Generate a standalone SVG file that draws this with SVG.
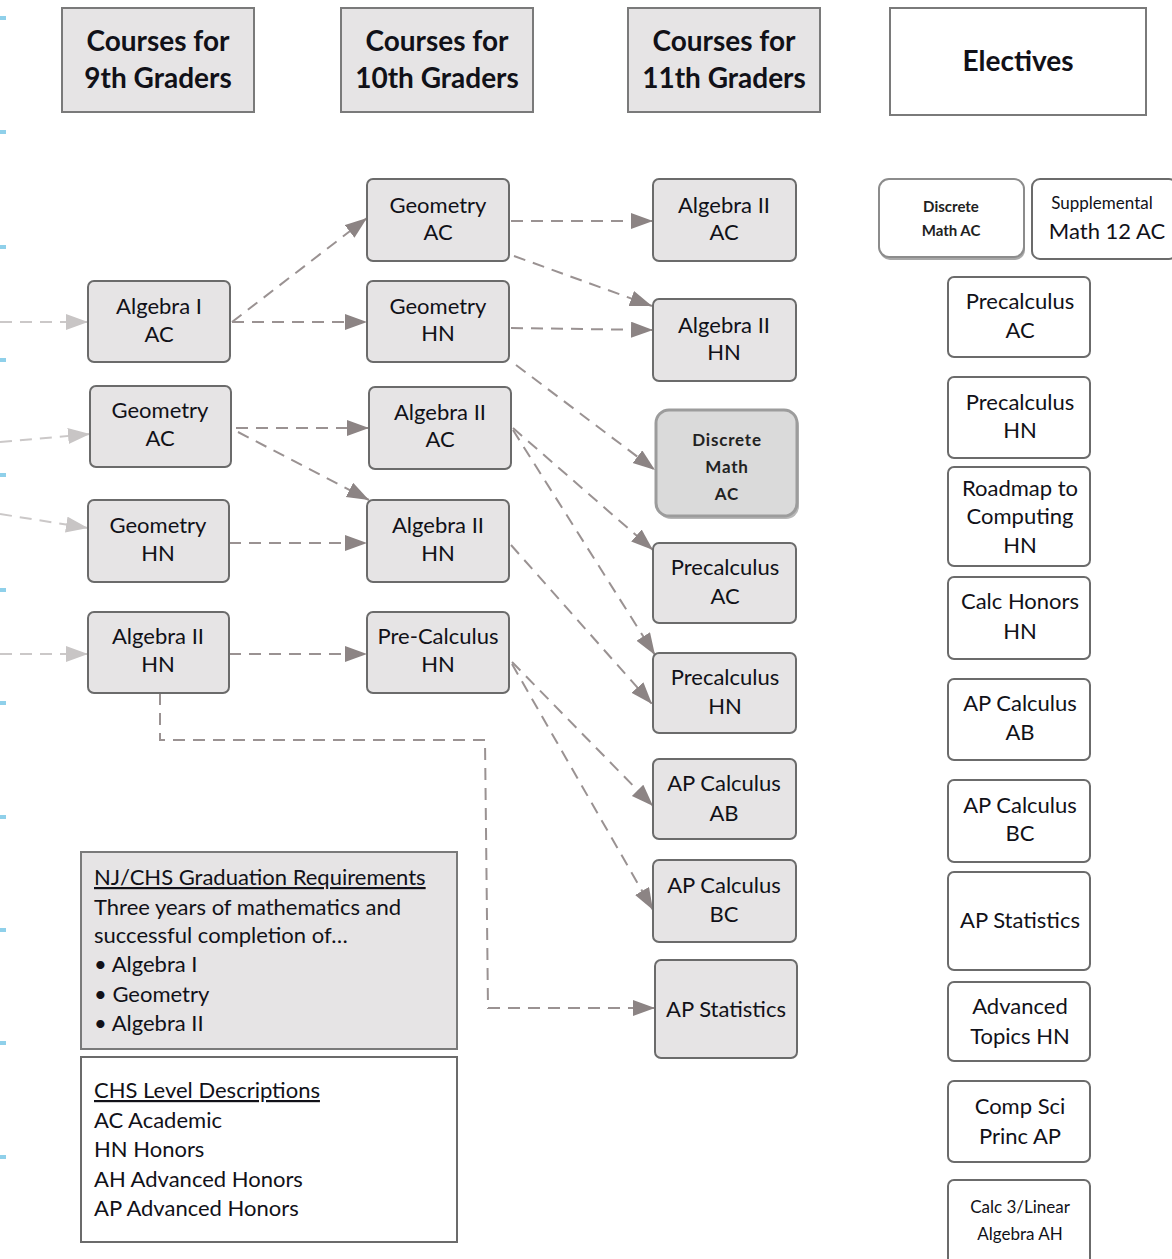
<svg xmlns="http://www.w3.org/2000/svg" width="1172" height="1259" viewBox="0 0 1172 1259">
<style>
text{font-family:Lato,"Open Sans","Liberation Sans",sans-serif;fill:#111118}
.hdr rect{fill:#e6e4e5;stroke:#7a7a7a;stroke-width:2}
.hdr text{font-size:28px;font-weight:bold;text-anchor:middle}
.node rect{fill:#e6e4e5;stroke:#6b6b6b;stroke-width:2}
.node text{font-size:22px;text-anchor:middle}
.elec rect{fill:#fff;stroke:#6b6b6b;stroke-width:2}
.elec text{font-size:22px;text-anchor:middle}
.info text{font-size:22px}
.c{fill:none;stroke:#9a9292;stroke-width:2;stroke-dasharray:12 8}
.ci{fill:none;stroke:#cbc8c8;stroke-width:2;stroke-dasharray:12 8}
.blue{fill:#8fd0ea}
.node text.dm{font-size:17px;font-weight:bold;letter-spacing:0.8px;fill:#222}
.elec text.de{font-size:15px;font-weight:bold;fill:#222}
</style>
<defs>
<marker id="ah" markerUnits="userSpaceOnUse" markerWidth="24" markerHeight="18" refX="22" refY="8" orient="auto"><path d="M0,0 L22,8 L0,16 z" fill="#8c8484"/></marker>
<marker id="ahl" markerUnits="userSpaceOnUse" markerWidth="24" markerHeight="18" refX="22" refY="8" orient="auto"><path d="M0,0 L22,8 L0,16 z" fill="#c8c5c5"/></marker>
</defs>
<rect width="1172" height="1259" fill="#fff"/>
<g id="edge-marks">
<rect class="blue" x="0" y="16" width="6" height="4"/>
<rect class="blue" x="0" y="130" width="6" height="4"/>
<rect class="blue" x="0" y="245" width="6" height="4"/>
<rect class="blue" x="0" y="358" width="6" height="4"/>
<rect class="blue" x="0" y="473" width="6" height="4"/>
<rect class="blue" x="0" y="588" width="6" height="4"/>
<rect class="blue" x="0" y="701" width="6" height="4"/>
<rect class="blue" x="0" y="815" width="6" height="4"/>
<rect class="blue" x="0" y="928" width="6" height="4"/>
<rect class="blue" x="0" y="1041" width="6" height="4"/>
<rect class="blue" x="0" y="1155" width="6" height="4"/>
</g>
<g id="headers" class="hdr">
<g id="h9"><rect x="62" y="8" width="192" height="104"/><text x="158" y="51">Courses for</text><text x="158" y="88">9th Graders</text></g>
<g id="h10"><rect x="341" y="8" width="192" height="104"/><text x="437" y="51">Courses for</text><text x="437" y="88">10th Graders</text></g>
<g id="h11"><rect x="628" y="8" width="192" height="104"/><text x="724" y="51">Courses for</text><text x="724" y="88">11th Graders</text></g>
<g id="hel"><rect x="890" y="8" width="256" height="107" style="fill:#fff"/><text x="1018" y="71">Electives</text></g>
</g>
<g id="connectors">
<path class="ci" d="M0,322 L88,322" marker-end="url(#ahl)"/>
<path class="ci" d="M0,442 L90,434" marker-end="url(#ahl)"/>
<path class="ci" d="M0,514 L88,528" marker-end="url(#ahl)"/>
<path class="ci" d="M0,654 L88,654" marker-end="url(#ahl)"/>
<path class="c" d="M232,322 L367,218" marker-end="url(#ah)"/>
<path class="c" d="M232,322 L367,322" marker-end="url(#ah)"/>
<path class="c" d="M236,428 L369,428" marker-end="url(#ah)"/>
<path class="c" d="M238,432 L369,500" marker-end="url(#ah)"/>
<path class="c" d="M229,543 L367,543" marker-end="url(#ah)"/>
<path class="c" d="M229,654 L367,654" marker-end="url(#ah)"/>
<path class="c" d="M160,693 L160,740 L485,740 L488,1008 L655,1008" marker-end="url(#ah)"/>
<path class="c" d="M511,221 L653,221" marker-end="url(#ah)"/>
<path class="c" d="M514,256 L652,306" marker-end="url(#ah)"/>
<path class="c" d="M511,328 L653,330" marker-end="url(#ah)"/>
<path class="c" d="M516,365 L655,470" marker-end="url(#ah)"/>
<path class="c" d="M513,428 L653,550" marker-end="url(#ah)"/>
<path class="c" d="M513,430 L655,655" marker-end="url(#ah)"/>
<path class="c" d="M511,545 L652,704" marker-end="url(#ah)"/>
<path class="c" d="M512,662 L653,806" marker-end="url(#ah)"/>
<path class="c" d="M512,664 L653,910" marker-end="url(#ah)"/>
</g>
<g id="grade9">
<g id="n9-alg1ac" class="node"><rect x="88" y="281" width="142" height="81" rx="6"/><text x="159" y="314">Algebra I</text><text x="159" y="342">AC</text></g>
<g id="n9-geoac" class="node"><rect x="90" y="386" width="141" height="81" rx="6"/><text x="160" y="418">Geometry</text><text x="160" y="446">AC</text></g>
<g id="n9-geohn" class="node"><rect x="88" y="500" width="141" height="82" rx="6"/><text x="158" y="533">Geometry</text><text x="158" y="561">HN</text></g>
<g id="n9-alg2hn" class="node"><rect x="88" y="612" width="141" height="81" rx="6"/><text x="158" y="644">Algebra II</text><text x="158" y="672">HN</text></g>
</g>
<g id="grade10">
<g id="n10-geoac" class="node"><rect x="367" y="179" width="142" height="82" rx="6"/><text x="438" y="213">Geometry</text><text x="438" y="240">AC</text></g>
<g id="n10-geohn" class="node"><rect x="367" y="281" width="142" height="81" rx="6"/><text x="438" y="314">Geometry</text><text x="438" y="341">HN</text></g>
<g id="n10-alg2ac" class="node"><rect x="369" y="387" width="142" height="82" rx="6"/><text x="440" y="420">Algebra II</text><text x="440" y="447">AC</text></g>
<g id="n10-alg2hn" class="node"><rect x="367" y="500" width="142" height="82" rx="6"/><text x="438" y="533">Algebra II</text><text x="438" y="561">HN</text></g>
<g id="n10-precalchn" class="node"><rect x="367" y="612" width="142" height="81" rx="6"/><text x="438" y="644">Pre-Calculus</text><text x="438" y="672">HN</text></g>
</g>
<g id="grade11">
<g id="n11-alg2ac" class="node"><rect x="653" y="179" width="143" height="82" rx="6"/><text x="724" y="213">Algebra II</text><text x="724" y="240">AC</text></g>
<g id="n11-alg2hn" class="node"><rect x="653" y="299" width="143" height="82" rx="6"/><text x="724" y="333">Algebra II</text><text x="724" y="360">HN</text></g>
<g id="n11-discrete" class="node"><rect x="658" y="413" width="141" height="106" rx="13" style="fill:#b8b8b8;stroke:none"/><rect x="656" y="410" width="141" height="106" rx="13" style="fill:#dadada;stroke:#9c9c9c;stroke-width:3"/><text x="727" y="446" class="dm">Discrete</text><text x="727" y="473" class="dm">Math</text><text x="727" y="500" class="dm">AC</text></g>
<g id="n11-precalcac" class="node"><rect x="653" y="543" width="143" height="80" rx="6"/><text x="725" y="575">Precalculus</text><text x="725" y="604">AC</text></g>
<g id="n11-precalchn" class="node"><rect x="653" y="653" width="143" height="80" rx="6"/><text x="725" y="685">Precalculus</text><text x="725" y="714">HN</text></g>
<g id="n11-apcab" class="node"><rect x="653" y="759" width="143" height="80" rx="6"/><text x="724" y="791">AP Calculus</text><text x="724" y="821">AB</text></g>
<g id="n11-apcbc" class="node"><rect x="653" y="860" width="143" height="82" rx="6"/><text x="724" y="893">AP Calculus</text><text x="724" y="922">BC</text></g>
<g id="n11-apstat" class="node"><rect x="655" y="960" width="142" height="98" rx="6"/><text x="726" y="1017">AP Statistics</text></g>
</g>
<g id="electives">
<g id="e-discrete" class="elec"><rect x="880" y="181" width="145" height="79" rx="10" style="fill:#a8a8a8;stroke:none"/><rect x="879" y="179" width="145" height="78" rx="10" style="stroke:#8c8c8c"/><text x="951" y="212" class="de">Discrete</text><text x="951" y="236" class="de">Math AC</text></g>
<g id="e-supp" class="elec"><rect x="1032" y="179" width="145" height="80" rx="8"/><text x="1102" y="209" style="font-size:17px">Supplemental</text><text x="1107" y="239">Math 12 AC</text></g>
<g id="e-precalcac" class="elec"><rect x="948" y="277" width="142" height="80" rx="6"/><text x="1020" y="309">Precalculus</text><text x="1020" y="338">AC</text></g>
<g id="e-precalchn" class="elec"><rect x="948" y="377" width="142" height="81" rx="6"/><text x="1020" y="410">Precalculus</text><text x="1020" y="438">HN</text></g>
<g id="e-roadmap" class="elec"><rect x="948" y="467" width="142" height="99" rx="6"/><text x="1020" y="496">Roadmap to</text><text x="1020" y="524">Computing</text><text x="1020" y="553">HN</text></g>
<g id="e-calchon" class="elec"><rect x="948" y="577" width="142" height="82" rx="6"/><text x="1020" y="609">Calc Honors</text><text x="1020" y="639">HN</text></g>
<g id="e-apcab" class="elec"><rect x="948" y="679" width="142" height="81" rx="6"/><text x="1020" y="711">AP Calculus</text><text x="1020" y="740">AB</text></g>
<g id="e-apcbc" class="elec"><rect x="948" y="780" width="142" height="82" rx="6"/><text x="1020" y="813">AP Calculus</text><text x="1020" y="841">BC</text></g>
<g id="e-apstat" class="elec"><rect x="948" y="872" width="142" height="98" rx="6"/><text x="1020" y="928">AP Statistics</text></g>
<g id="e-advtopics" class="elec"><rect x="948" y="982" width="142" height="79" rx="6"/><text x="1020" y="1014">Advanced</text><text x="1020" y="1044">Topics HN</text></g>
<g id="e-compsci" class="elec"><rect x="948" y="1081" width="142" height="81" rx="6"/><text x="1020" y="1114">Comp Sci</text><text x="1020" y="1144">Princ AP</text></g>
<g id="e-calc3" class="elec"><rect x="948" y="1180" width="142" height="85" rx="6"/><text x="1020" y="1213" style="font-size:17px">Calc 3/Linear</text><text x="1020" y="1240" style="font-size:17px">Algebra AH</text></g>
</g>
<g id="grad-req" class="info">
<rect x="81" y="852" width="376" height="197" fill="#e6e4e5" stroke="#7a7a7a" stroke-width="2"/>
<text x="94" y="885" text-decoration="underline">NJ/CHS Graduation Requirements</text>
<text x="94" y="915">Three years of mathematics and</text>
<text x="94" y="943">successful completion of…</text>
<text x="94" y="972">• Algebra I</text>
<text x="94" y="1002">• Geometry</text>
<text x="94" y="1031">• Algebra II</text>
</g>
<g id="level-desc" class="info">
<rect x="81" y="1057" width="376" height="185" fill="#fff" stroke="#6b6b6b" stroke-width="2"/>
<text x="94" y="1098" text-decoration="underline">CHS Level Descriptions</text>
<text x="94" y="1128">AC Academic</text>
<text x="94" y="1157">HN Honors</text>
<text x="94" y="1187">AH Advanced Honors</text>
<text x="94" y="1216">AP Advanced Honors</text>
</g>
</svg>
